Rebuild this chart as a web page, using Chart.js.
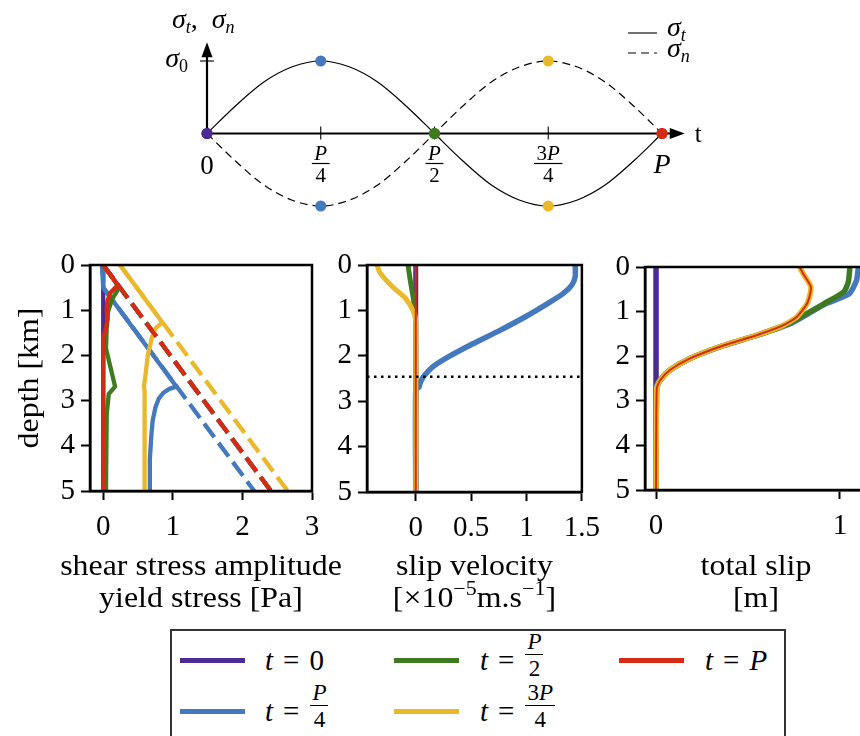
<!DOCTYPE html>
<html><head><meta charset="utf-8">
<script src="https://cdn.jsdelivr.net/npm/chart.js@4.4.1/dist/chart.umd.min.js"></script>
<style>
html,body{margin:0;padding:0;background:#fff;}
body{width:860px;height:736px;overflow:hidden;position:relative;font-family:"Liberation Serif",serif;color:#000;}
.cv{position:absolute;}
.cv canvas{display:block;}
#legend{position:absolute;left:170px;top:629px;width:616px;height:140px;border:2.5px solid #333;box-sizing:border-box;}
.lg-line{position:absolute;height:5px;width:65px;margin-top:-2.5px;}
.lg-txt{position:absolute;display:flex;align-items:center;font-size:29px;height:60px;margin-top:-30px;white-space:nowrap;line-height:1;}
.frac{display:inline-flex;flex-direction:column;align-items:center;font-size:23px;line-height:1;margin-left:1px;margin-top:-10px;}
.frac .num{padding:0 2px 1px;border-bottom:1.4px solid #000;}
.frac .den{padding-top:2px;}
.eq{margin:0 10px;}
</style></head>
<body>
<div class="cv" style="left:0;top:0;"><canvas id="c0" width="860" height="240"></canvas></div>
<div class="cv" style="left:0;top:240px;"><canvas id="c1" width="350" height="380"></canvas></div>
<div class="cv" style="left:330px;top:240px;"><canvas id="c2" width="280" height="380"></canvas></div>
<div class="cv" style="left:590px;top:240px;"><canvas id="c3" width="300" height="380"></canvas></div>
<div id="legend"></div>
<script>
// ---------- colours / time instants ----------
const timeColors = ['#4B2A92', '#4479BD', '#3E7A1F', '#EAB92B', '#D42B14']; // t=0, P/4, P/2, 3P/4, P
const legendLabels = [
  '<i>t</i><span class="eq">=</span>0',
  '<i>t</i><span class="eq">=</span><span class="frac"><span class="num"><i>P</i></span><span class="den">4</span></span>',
  '<i>t</i><span class="eq">=</span><span class="frac"><span class="num"><i>P</i></span><span class="den">2</span></span>',
  '<i>t</i><span class="eq">=</span><span class="frac"><span class="num">3<i>P</i></span><span class="den">4</span></span>',
  '<i>t</i><span class="eq">=</span><i>P</i>'
];

// ---------- schematic (top) ----------
const phaseT = [0, 0.0625, 0.125, 0.1875, 0.25, 0.3125, 0.375, 0.4375, 0.5, 0.5625, 0.625, 0.6875, 0.75, 0.8125, 0.875, 0.9375, 1];
const sigmaT = [0, 0.38, 0.71, 0.92, 1, 0.92, 0.71, 0.38, 0, -0.38, -0.71, -0.92, -1, -0.92, -0.71, -0.38, 0];
const sigmaN = [0, -0.38, -0.71, -0.92, -1, -0.92, -0.71, -0.38, 0, 0.38, 0.71, 0.92, 1, 0.92, 0.71, 0.38, 0];
const markerT = [0, 0.25, 0.5, 0.75, 1];
const markerSigmaT = [0, 1, 0, -1, 0];
const markerSigmaN = [0, -1, 0, 1, 0];
const phaseTickT = [0.25, 0.5, 0.75];

// ---------- panel 1 : shear stress amplitude / yield stress [Pa] ----------
const shearDepthT0 = [0, 5];
const shearT0      = [0, 0];
const shearDepthP4 = [0, 0.5, 2.69, 2.74, 2.82, 2.95, 3.15, 3.45, 3.8, 4.3, 5];
const shearP4      = [-0.02, 0.0, 1.05, 0.95, 0.87, 0.8, 0.75, 0.71, 0.69, 0.67, 0.67];
const shearDepthP2 = [0, 0.5, 0.75, 1.03, 1.4, 1.85, 2.69, 2.85, 3.3, 4.2, 5];
const shearP2      = [0, 0.23, 0.13, 0.07, 0.05, 0.04, 0.17, 0.08, 0.05, 0.04, 0.04];
const shearDepth3P4 = [0, 1.27, 1.4, 1.6, 2.0, 2.4, 2.69, 2.8, 5];
const shear3P4      = [0.24, 0.85, 0.75, 0.7, 0.64, 0.61, 0.585, 0.595, 0.595];
const shearDepthP  = [0, 0.44, 0.62, 0.8, 1.0, 1.2, 1.4, 1.6, 2.0, 5];
const shearP       = [0, 0.21, 0.1, 0.06, 0.05, 0.06, 0.04, 0.0, 0.0, 0.0];
const yieldDepthT0 = [0, 5];
const yieldT0      = [0, 2.41];
const yieldDepthP4 = [0, 0.5, 5];
const yieldP4      = [0, 0, 2.17];
const yieldDepthP2 = [0, 5];
const yieldP2      = [0, 2.41];
const yieldDepth3P4 = [0, 5];
const yield3P4      = [0.24, 2.65];
const yieldDepthP  = [0, 5];
const yieldP       = [0, 2.41];
const stressTicks = [0, 1, 2, 3];
const stressTickLabels = ['0', '1', '2', '3'];

// ---------- panel 2 : slip velocity ----------
const velDepthT0 = [0, 5];
const velT0      = [0, 0];
const velDepthP4 = [0, 0.25, 0.44, 0.63, 0.85, 1.14, 1.44, 1.73, 2.03, 2.25, 2.46, 2.6, 2.69, 2.74, 5];
const velP4      = [1.44, 1.44, 1.41, 1.33, 1.19, 0.99, 0.76, 0.52, 0.29, 0.15, 0.07, 0.04, 0.03, 0, 0];
const velDepthP2 = [0, 0.33, 0.77, 1.3, 5];
const velP2      = [-0.07, -0.05, -0.02, 0, 0];
const velDepth3P4 = [0, 0.18, 0.48, 0.74, 1.03, 1.25, 5];
const vel3P4      = [-0.35, -0.32, -0.21, -0.09, -0.02, 0, 0];
const velDepthP  = [0, 5];
const velP       = [0, 0];
const lockedDepth = 2.46;
const velTicks = [0, 0.5, 1, 1.5];
const velTickLabels = ['0', '0.5', '1', '1.5'];

// ---------- panel 3 : total slip [m] ----------
const slipDepthT0 = [0, 5];
const slipT0      = [0, 0];
const slipDepthP4 = [0, 0.3, 0.6, 0.83, 1.09, 1.27, 1.53, 1.76, 2.05, 2.31, 2.54, 2.72, 5];
const slipP4      = [1.1, 1.09, 1.05, 0.92, 0.81, 0.73, 0.55, 0.37, 0.185, 0.076, 0.022, 0.0, 0.0];
const slipDepthP2 = [0, 0.34, 0.56, 0.83, 1.09, 1.27, 1.53, 1.76, 2.05, 2.31, 2.54, 2.72, 5];
const slipP2      = [1.054, 1.045, 1.02, 0.91, 0.8, 0.72, 0.55, 0.366, 0.185, 0.076, 0.022, 0.004, 0];
const slipDepth3P4 = [0, 0.15, 0.42, 0.56, 0.83, 1.12, 1.31, 1.53, 1.76, 2.05, 2.31, 2.54, 2.72, 5];
const slip3P4      = [0.78, 0.8, 0.84, 0.84, 0.82, 0.765, 0.69, 0.547, 0.366, 0.185, 0.076, 0.022, 0.004, 0];
const slipDepthP  = [0, 0.15, 0.42, 0.56, 0.83, 1.12, 1.31, 1.53, 1.76, 2.05, 2.31, 2.54, 2.72, 5];
const slipP       = [0.78, 0.8, 0.84, 0.84, 0.82, 0.765, 0.69, 0.547, 0.366, 0.185, 0.076, 0.022, 0.004, 0];
const slipTicks = [0, 1];
const slipTickLabels = ['0', '1'];

const depthTicks = [0, 1, 2, 3, 4, 5];
const depthTickLabels = ['0', '1', '2', '3', '4', '5'];

// ---------- helpers ----------
const SERIF = "'Liberation Serif', 'Times New Roman', serif";
const STRETCH = 1.1;
function zip(depths, values) { return depths.map((d, i) => ({ x: values[i], y: d })); }
function curve(depths, values, color, width, dash, tension) {
  return { data: zip(depths, values), showLine: true, borderColor: color, backgroundColor: color,
    borderWidth: width, borderDash: dash || [], pointRadius: 0, tension: tension || 0,
    borderJoinStyle: 'round', fill: false };
}
function withOrder(list) { list.forEach((d, i) => { d.order = list.length - i; }); return list; }

function drawParts(ctx, parts, x, y, size, align) {
  const fonts = parts.map(p => (p.i ? 'italic ' : '') + (p.s || size) + 'px ' + SERIF);
  const widths = parts.map((p, k) => { ctx.font = fonts[k]; return ctx.measureText(p.t).width; });
  const total = widths.reduce((a, b) => a + b, 0);
  let cx = align === 'center' ? x - total / 2 : align === 'right' ? x - total : x;
  ctx.textAlign = 'left'; ctx.textBaseline = 'alphabetic';
  parts.forEach((p, k) => { ctx.font = fonts[k]; ctx.fillText(p.t, cx, y + (p.dy || 0)); cx += widths[k]; });
  return total;
}

const framePlugin = {
  id: 'frame',
  afterDraw(chart, args, opts) {
    const { ctx, chartArea: a } = chart;
    ctx.save(); ctx.strokeStyle = '#000'; ctx.lineWidth = 2.5;
    ctx.strokeRect(a.left, a.top, a.right - a.left, a.bottom - a.top);
    ctx.fillStyle = '#000';
    const cx = (a.left + a.right) / 2;
    (opts.xlines || []).forEach((parts, k) => {
      ctx.save(); ctx.translate(cx, opts.baselines[k]); ctx.scale(STRETCH, 1);
      drawParts(ctx, parts, 0, 0, 29, 'center'); ctx.restore();
    });
    if (opts.ytitle) {
      ctx.save(); ctx.translate(opts.ytitleX, (a.top + a.bottom) / 2); ctx.rotate(-Math.PI / 2); ctx.scale(STRETCH, 1);
      drawParts(ctx, opts.ytitle, 0, 0, 29, 'center'); ctx.restore();
    }
    ctx.restore();
  }
};

function panel(id, cfg) {
  const tickFont = { family: SERIF, size: 29 };
  return new Chart(document.getElementById(id), {
    type: 'scatter',
    data: { datasets: withOrder(cfg.datasets) },
    options: {
      responsive: false, animation: false, events: [],
      layout: { padding: cfg.pad },
      plugins: { legend: { display: false }, tooltip: { enabled: false },
                 frame: { xlines: cfg.xtitle, baselines: [335, 367], ytitle: cfg.ytitle, ytitleX: 38 } },
      scales: {
        x: {
          type: 'linear', position: 'bottom', min: cfg.xmin, max: cfg.xmax,
          afterFit: s => { s.height = cfg.xh; },
          afterBuildTicks: s => { s.ticks = cfg.xticks.map(v => ({ value: v })); },
          ticks: { color: '#000', font: tickFont, padding: 10, maxRotation: 0, autoSkip: false,
                   callback: (v, i) => cfg.xlabels[i] },
          grid: { display: true, drawOnChartArea: false, drawTicks: true, tickLength: 9, tickWidth: 2, tickColor: '#000' },
          border: { display: true, color: '#000', width: 2.5 },
          title: { display: false }
        },
        y: {
          type: 'linear', position: 'left', min: 0, max: 5, reverse: true,
          afterFit: s => { s.width = cfg.yw; },
          afterBuildTicks: s => { s.ticks = depthTicks.map(v => ({ value: v })); },
          ticks: { color: '#000', font: tickFont, padding: 6, autoSkip: false,
                   callback: (v, i) => depthTickLabels[i] },
          grid: { display: true, drawOnChartArea: false, drawTicks: true, tickLength: 9, tickWidth: 2, tickColor: '#000' },
          border: { display: true, color: '#000', width: 2.5 },
          title: { display: false }
        }
      }
    },
    plugins: [framePlugin]
  });
}

// ---------- panel 1 ----------
const W1 = 4.3, DASH1 = [17, 7];
panel('c1', {
  pad: { left: 0, right: 38, top: 25, bottom: 0 }, xh: 129, yw: 90,
  xmin: -0.19, xmax: 3, xticks: stressTicks, xlabels: stressTickLabels,
  xtitle: [[{ t: 'shear stress amplitude' }], [{ t: 'yield stress [Pa]' }]],
  ytitle: [{ t: 'depth [km]' }],
  datasets: [
    curve(shearDepthT0, shearT0, timeColors[0], W1),
    curve(yieldDepthT0, yieldT0, timeColors[0], W1, DASH1),
    curve(shearDepthP4, shearP4, timeColors[1], W1),
    curve(yieldDepthP4, yieldP4, timeColors[1], W1, DASH1),
    curve(shearDepthP2, shearP2, timeColors[2], W1),
    curve(yieldDepthP2, yieldP2, timeColors[2], W1, DASH1),
    curve(shearDepth3P4, shear3P4, timeColors[3], W1),
    curve(yieldDepth3P4, yield3P4, timeColors[3], W1, DASH1),
    curve(shearDepthP, shearP, timeColors[4], W1),
    curve(yieldDepthP, yieldP, timeColors[4], W1, DASH1)
  ]
});

// ---------- panel 2 ----------
const velXmin = -0.44, velXmax = 1.5;
panel('c2', {
  pad: { left: 0, right: 22, top: 25, bottom: 0 }, xh: 128, yw: 37,
  xmin: velXmin, xmax: velXmax, xticks: velTicks, xlabels: velTickLabels,
  xtitle: [[{ t: 'slip velocity' }],
           [{ t: '[\u00d710' }, { t: '\u22125', s: 20, dy: -12 }, { t: 'm.s' }, { t: '\u22121', s: 20, dy: -12 }, { t: ']' }]],
  datasets: [
    curve(velDepthT0, velT0, timeColors[0], 5, null, 0.2),
    curve(velDepthP4, velP4, timeColors[1], 5.5, null, 0.2),
    curve(velDepthP2, velP2, timeColors[2], 5, null, 0.2),
    curve(velDepth3P4, vel3P4, timeColors[3], 5, null, 0.2),
    curve(velDepthP, velP, timeColors[4], 2, null, 0.2),
    { data: [{ x: velXmin, y: lockedDepth }, { x: velXmax, y: lockedDepth }], showLine: true,
      borderColor: '#000', borderWidth: 2.5, borderDash: [2.5, 4.5], pointRadius: 0 }
  ]
});

// ---------- panel 3 ----------
panel('c3', {
  pad: { left: 0, right: 23, top: 27, bottom: 0 }, xh: 130, yw: 55,
  xmin: -0.06, xmax: 1.147, xticks: slipTicks, xlabels: slipTickLabels,
  xtitle: [[{ t: 'total slip' }], [{ t: '[m]' }]],
  datasets: [
    curve(slipDepthT0, slipT0, timeColors[0], 5.5, null, 0.2),
    curve(slipDepthP4, slipP4, timeColors[1], 5.5, null, 0.2),
    curve(slipDepthP2, slipP2, timeColors[2], 5.5, null, 0.2),
    curve(slipDepth3P4, slip3P4, timeColors[3], 5.5, null, 0.2),
    curve(slipDepthP, slipP, timeColors[4], 2, null, 0.2)
  ]
});

// ---------- schematic ----------
function drawFrac(ctx, x, yBar, num, den, size) {
  ctx.font = size + 'px ' + SERIF;
  const wd = ctx.measureText(den).width;
  let wn = 0;
  num.forEach(p => { ctx.font = (p.i ? 'italic ' : '') + size + 'px ' + SERIF; wn += ctx.measureText(p.t).width; });
  const w = Math.max(wn, wd) + 5;
  drawParts(ctx, num, x, yBar - 4, size, 'center');
  drawParts(ctx, [{ t: den }], x, yBar + 18, size, 'center');
  ctx.beginPath(); ctx.lineWidth = 1.2; ctx.moveTo(x - w / 2, yBar); ctx.lineTo(x + w / 2, yBar); ctx.stroke();
}
const fracNums = [[{ t: 'P', i: true }], [{ t: 'P', i: true }], [{ t: '3' }, { t: 'P', i: true }]];
const fracDens = ['4', '2', '4'];

const schemPlugin = {
  id: 'schem',
  beforeDatasetsDraw(chart) {
    const { ctx, scales: { x, y } } = chart;
    const x0 = x.getPixelForValue(0), y0 = y.getPixelForValue(0);
    const xEnd = x.getPixelForValue(1.05), yTop = y.getPixelForValue(1.26);
    ctx.save(); ctx.strokeStyle = '#000'; ctx.fillStyle = '#000';
    ctx.lineWidth = 2.2;
    ctx.beginPath(); ctx.moveTo(x0, y0); ctx.lineTo(xEnd - 12, y0); ctx.stroke();
    ctx.beginPath(); ctx.moveTo(xEnd, y0); ctx.lineTo(xEnd - 15, y0 - 5.5); ctx.lineTo(xEnd - 15, y0 + 5.5); ctx.closePath(); ctx.fill();
    ctx.beginPath(); ctx.moveTo(x0, y0); ctx.lineTo(x0, yTop + 12); ctx.stroke();
    ctx.beginPath(); ctx.moveTo(x0, yTop); ctx.lineTo(x0 - 5.5, yTop + 15); ctx.lineTo(x0 + 5.5, yTop + 15); ctx.closePath(); ctx.fill();
    ctx.lineWidth = 1.1;
    phaseTickT.forEach(t => { const px = x.getPixelForValue(t); ctx.beginPath(); ctx.moveTo(px, y0 - 7); ctx.lineTo(px, y0 + 6); ctx.stroke(); });
    const ys = y.getPixelForValue(1);
    ctx.beginPath(); ctx.moveTo(x0 - 7, ys); ctx.lineTo(x0 + 7, ys); ctx.stroke();
    ctx.restore();
  },
  afterDatasetsDraw(chart) {
    const { ctx, scales: { x, y } } = chart;
    const x0 = x.getPixelForValue(0), y0 = y.getPixelForValue(0);
    ctx.save(); ctx.fillStyle = '#000'; ctx.strokeStyle = '#000';
    drawParts(ctx, [{ t: '0' }], x0, y0 + 40, 27, 'center');
    phaseTickT.forEach((t, k) => drawFrac(ctx, x.getPixelForValue(t), y0 + 30, fracNums[k], fracDens[k], 21));
    drawParts(ctx, [{ t: 'P', i: true }], x.getPixelForValue(1), y0 + 39, 28, 'center');
    drawParts(ctx, [{ t: 't' }], x.getPixelForValue(1.05) + 10, y0 + 8, 25, 'left');
    drawParts(ctx, [{ t: '\u03c3', i: true }, { t: '0', s: 18, dy: 5 }], x0 - 19, y.getPixelForValue(1) + 6, 28, 'right');
    drawParts(ctx, [{ t: '\u03c3', i: true }, { t: 't', i: true, s: 18, dy: 5 }, { t: ',  ' }, { t: '\u03c3', i: true }, { t: 'n', i: true, s: 18, dy: 5 }], x0 - 35, 28, 28, 'left');
    // line-style key
    ctx.lineWidth = 1.1;
    ctx.beginPath(); ctx.moveTo(628, 33); ctx.lineTo(657, 33); ctx.stroke();
    ctx.setLineDash([8, 5]); ctx.beginPath(); ctx.moveTo(628, 53); ctx.lineTo(657, 53); ctx.stroke(); ctx.setLineDash([]);
    drawParts(ctx, [{ t: '\u03c3', i: true }, { t: 't', i: true, s: 18, dy: 5 }], 667, 36, 28, 'left');
    drawParts(ctx, [{ t: '\u03c3', i: true }, { t: 'n', i: true, s: 18, dy: 5 }], 667, 57, 28, 'left');
    ctx.restore();
  }
};

new Chart(document.getElementById('c0'), {
  type: 'scatter',
  data: {
    datasets: [
      { data: phaseT.map((t, i) => ({ x: t, y: sigmaT[i] })), showLine: true, borderColor: '#000', borderWidth: 1.2,
        pointRadius: 0, cubicInterpolationMode: 'monotone', clip: false, order: 3 },
      { data: phaseT.map((t, i) => ({ x: t, y: sigmaN[i] })), showLine: true, borderColor: '#000', borderWidth: 1.2,
        borderDash: [8, 5], pointRadius: 0, cubicInterpolationMode: 'monotone', clip: false, order: 3 },
      { data: markerT.map((t, i) => ({ x: t, y: markerSigmaT[i] })), showLine: false, pointRadius: 5.5, pointBorderWidth: 0,
        pointBackgroundColor: timeColors, clip: false, order: 1 },
      { data: markerT.map((t, i) => ({ x: t, y: markerSigmaN[i] })), showLine: false, pointRadius: 5.5, pointBorderWidth: 0,
        pointBackgroundColor: timeColors, clip: false, order: 2 }
    ]
  },
  options: {
    responsive: false, animation: false, events: [],
    layout: { padding: { left: 207, right: 198, top: 61, bottom: 34 } },
    plugins: { legend: { display: false }, tooltip: { enabled: false } },
    scales: { x: { type: 'linear', display: false, min: 0, max: 1 }, y: { type: 'linear', display: false, min: -1, max: 1 } }
  },
  plugins: [schemPlugin]
});

// ---------- legend ----------
const legendLineX = [180, 180, 394, 394, 619];
const legendTextX = [265, 265, 480, 480, 705];
const legendRowY = [660, 711, 660, 711, 660];
const lg = document.getElementById('legend');
timeColors.forEach((c, i) => {
  const ln = document.createElement('div');
  ln.className = 'lg-line';
  ln.style.cssText = `left:${legendLineX[i] - 172}px;top:${legendRowY[i] - 631}px;background:${c};position:absolute;`;
  lg.appendChild(ln);
  const tx = document.createElement('div');
  tx.className = 'lg-txt';
  tx.style.left = (legendTextX[i] - 172) + 'px';
  tx.style.top = (legendRowY[i] - 631) + 'px';
  tx.innerHTML = legendLabels[i];
  lg.appendChild(tx);
});
</script>
</body></html>
